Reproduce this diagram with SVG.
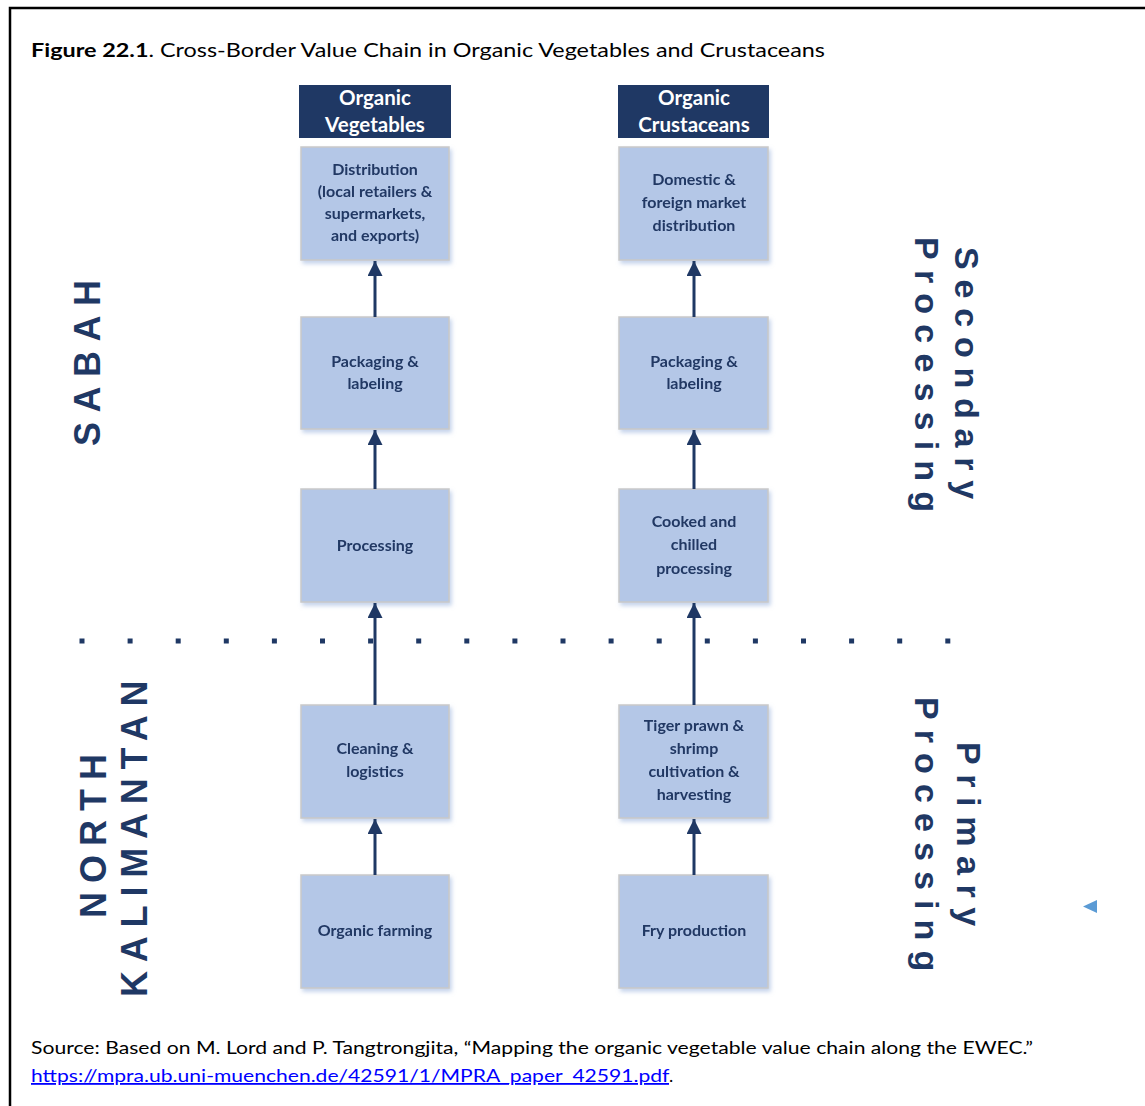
<svg xmlns="http://www.w3.org/2000/svg" width="1145" height="1106" viewBox="0 0 1145 1106">
  <style>
    .title { font-family: Lato, "Liberation Sans", sans-serif; font-size: 19px; fill: #000; }
    .hdr-box { fill: #1F3864; }
    .hdr-txt { font-family: Lato, "Liberation Sans", sans-serif; font-size: 20.5px; font-weight: bold; fill: #FFFFFF; text-anchor: middle; }
    .box { fill: #B4C7E7; stroke: #C9C9C9; stroke-width: 1.5; }
    .box-txt { font-family: Lato, "Liberation Sans", sans-serif; font-size: 16px; font-weight: bold; fill: #203864; text-anchor: middle; }
    .conn { stroke: #1F3864; stroke-width: 3; fill: none; }
    .dot { fill: #1F3864; }
    .side { font-family: "Liberation Sans", Arial, sans-serif; font-weight: bold; fill: #1F3864; }
    .src { font-family: Lato, "Liberation Sans", sans-serif; font-size: 18px; fill: #000; }
    .link { fill: #0000FF; text-decoration: underline; }
  </style>
  <defs>
    <marker id="arrow" markerUnits="userSpaceOnUse" markerWidth="16" markerHeight="16" refX="15" refY="7.5" orient="auto">
      <path d="M0,0 L15,7.5 L0,15 Z" fill="#1F3864"/>
    </marker>
    <filter id="shadow" x="-10%" y="-10%" width="125%" height="125%">
      <feDropShadow dx="2" dy="3" stdDeviation="2" flood-color="#9DB5DE" flood-opacity="0.6"/>
    </filter>
  </defs>

  <rect width="1145" height="1106" fill="#FFFFFF"/>

  <!-- figure frame, open on the right and bottom -->
  <path d="M10,1106 L10,8 L1145,8" fill="none" stroke="#000" stroke-width="2.5"/>

  <text class="title" x="31" y="57" textLength="794" lengthAdjust="spacingAndGlyphs"><tspan font-weight="bold">Figure 22.1</tspan>. Cross-Border Value Chain in Organic Vegetables and Crustaceans</text>

  <!-- column headers -->
  <g id="hdr-veg">
    <rect class="hdr-box" x="299" y="85" width="152" height="53"/>
    <text class="hdr-txt" x="375" y="105">Organic</text>
    <text class="hdr-txt" x="375" y="132">Vegetables</text>
  </g>
  <g id="hdr-crus">
    <rect class="hdr-box" x="618" y="85" width="151" height="53"/>
    <text class="hdr-txt" x="694" y="105">Organic</text>
    <text class="hdr-txt" x="694" y="132">Crustaceans</text>
  </g>

  <!-- vegetables chain -->
  <g id="veg-distribution" filter="url(#shadow)">
    <rect class="box" x="301" y="147" width="148" height="113"/>
    <text class="box-txt" x="375" y="175">Distribution</text>
    <text class="box-txt" x="375" y="197">(local retailers &amp;</text>
    <text class="box-txt" x="375" y="219">supermarkets,</text>
    <text class="box-txt" x="375" y="241">and exports)</text>
  </g>
  <g id="veg-packaging" filter="url(#shadow)">
    <rect class="box" x="301" y="317" width="148" height="112"/>
    <text class="box-txt" x="375" y="367">Packaging &amp;</text>
    <text class="box-txt" x="375" y="389">labeling</text>
  </g>
  <g id="veg-processing" filter="url(#shadow)">
    <rect class="box" x="301" y="489" width="148" height="113"/>
    <text class="box-txt" x="375" y="551">Processing</text>
  </g>
  <g id="veg-cleaning" filter="url(#shadow)">
    <rect class="box" x="301" y="705" width="148" height="113"/>
    <text class="box-txt" x="375" y="754">Cleaning &amp;</text>
    <text class="box-txt" x="375" y="777">logistics</text>
  </g>
  <g id="veg-farming" filter="url(#shadow)">
    <rect class="box" x="301" y="875" width="148" height="113"/>
    <text class="box-txt" x="375" y="936">Organic farming</text>
  </g>

  <!-- crustaceans chain -->
  <g id="crus-distribution" filter="url(#shadow)">
    <rect class="box" x="619" y="147" width="149" height="113"/>
    <text class="box-txt" x="694" y="185">Domestic &amp;</text>
    <text class="box-txt" x="694" y="208">foreign market</text>
    <text class="box-txt" x="694" y="231">distribution</text>
  </g>
  <g id="crus-packaging" filter="url(#shadow)">
    <rect class="box" x="619" y="317" width="149" height="112"/>
    <text class="box-txt" x="694" y="367">Packaging &amp;</text>
    <text class="box-txt" x="694" y="389">labeling</text>
  </g>
  <g id="crus-cooked" filter="url(#shadow)">
    <rect class="box" x="619" y="489" width="149" height="113"/>
    <text class="box-txt" x="694" y="527">Cooked and</text>
    <text class="box-txt" x="694" y="550">chilled</text>
    <text class="box-txt" x="694" y="574">processing</text>
  </g>
  <g id="crus-cultivation" filter="url(#shadow)">
    <rect class="box" x="619" y="705" width="149" height="113"/>
    <text class="box-txt" x="694" y="731">Tiger prawn &amp;</text>
    <text class="box-txt" x="694" y="754">shrimp</text>
    <text class="box-txt" x="694" y="777">cultivation &amp;</text>
    <text class="box-txt" x="694" y="800">harvesting</text>
  </g>
  <g id="crus-fry" filter="url(#shadow)">
    <rect class="box" x="619" y="875" width="149" height="113"/>
    <text class="box-txt" x="694" y="936">Fry production</text>
  </g>

  <!-- border between regions -->
  <g id="divider">
    <rect class="dot" x="79.5" y="638.5" width="5" height="5"/>
    <rect class="dot" x="127.6" y="638.5" width="5" height="5"/>
    <rect class="dot" x="175.7" y="638.5" width="5" height="5"/>
    <rect class="dot" x="223.8" y="638.5" width="5" height="5"/>
    <rect class="dot" x="271.9" y="638.5" width="5" height="5"/>
    <rect class="dot" x="320" y="638.5" width="5" height="5"/>
    <rect class="dot" x="368.1" y="638.5" width="5" height="5"/>
    <rect class="dot" x="416.2" y="638.5" width="5" height="5"/>
    <rect class="dot" x="464.3" y="638.5" width="5" height="5"/>
    <rect class="dot" x="512.4" y="638.5" width="5" height="5"/>
    <rect class="dot" x="560.5" y="638.5" width="5" height="5"/>
    <rect class="dot" x="608.6" y="638.5" width="5" height="5"/>
    <rect class="dot" x="656.7" y="638.5" width="5" height="5"/>
    <rect class="dot" x="704.8" y="638.5" width="5" height="5"/>
    <rect class="dot" x="752.9" y="638.5" width="5" height="5"/>
    <rect class="dot" x="801" y="638.5" width="5" height="5"/>
    <rect class="dot" x="849.1" y="638.5" width="5" height="5"/>
    <rect class="dot" x="897.2" y="638.5" width="5" height="5"/>
    <rect class="dot" x="945.3" y="638.5" width="5" height="5"/>
  </g>

  <!-- connectors -->
  <g id="connectors">
    <line class="conn" x1="375" y1="317" x2="375" y2="261" marker-end="url(#arrow)"/>
    <line class="conn" x1="375" y1="489" x2="375" y2="430" marker-end="url(#arrow)"/>
    <line class="conn" x1="375" y1="705" x2="375" y2="603" marker-end="url(#arrow)"/>
    <line class="conn" x1="375" y1="875" x2="375" y2="819" marker-end="url(#arrow)"/>
    <line class="conn" x1="694" y1="317" x2="694" y2="261" marker-end="url(#arrow)"/>
    <line class="conn" x1="694" y1="489" x2="694" y2="430" marker-end="url(#arrow)"/>
    <line class="conn" x1="694" y1="705" x2="694" y2="603" marker-end="url(#arrow)"/>
    <line class="conn" x1="694" y1="875" x2="694" y2="819" marker-end="url(#arrow)"/>
  </g>

  <!-- region labels -->
  <text class="side" font-size="36" letter-spacing="9.5" transform="translate(100,446) rotate(-90)">SABAH</text>
  <text class="side" font-size="36" letter-spacing="9" transform="translate(106,918) rotate(-90)">NORTH</text>
  <text class="side" font-size="36" letter-spacing="8.8" transform="translate(147,997) rotate(-90)">KALIMANTAN</text>

  <!-- stage labels -->
  <text class="side" font-size="34" letter-spacing="9.8" transform="translate(955,247) rotate(90)">Secondary</text>
  <text class="side" font-size="34" letter-spacing="10.2" transform="translate(915,237) rotate(90)">Processing</text>
  <text class="side" font-size="34" letter-spacing="9.6" transform="translate(957,742) rotate(90)">Primary</text>
  <text class="side" font-size="34" letter-spacing="10.1" transform="translate(915,697) rotate(90)">Processing</text>

  <!-- small stray pointer -->
  <path d="M1083,906.5 L1097,900 L1097,913 Z" fill="#5B9BD5"/>

  <!-- source note -->
  <text class="src" x="31" y="1054" textLength="1002" lengthAdjust="spacingAndGlyphs">Source: Based on M. Lord and P. Tangtrongjita, “Mapping the organic vegetable value chain along the EWEC.”</text>
  <text class="src" x="31" y="1082"><tspan class="link" textLength="638" lengthAdjust="spacingAndGlyphs">https://mpra.ub.uni-muenchen.de/42591/1/MPRA_paper_42591.pdf</tspan>.</text>
</svg>
